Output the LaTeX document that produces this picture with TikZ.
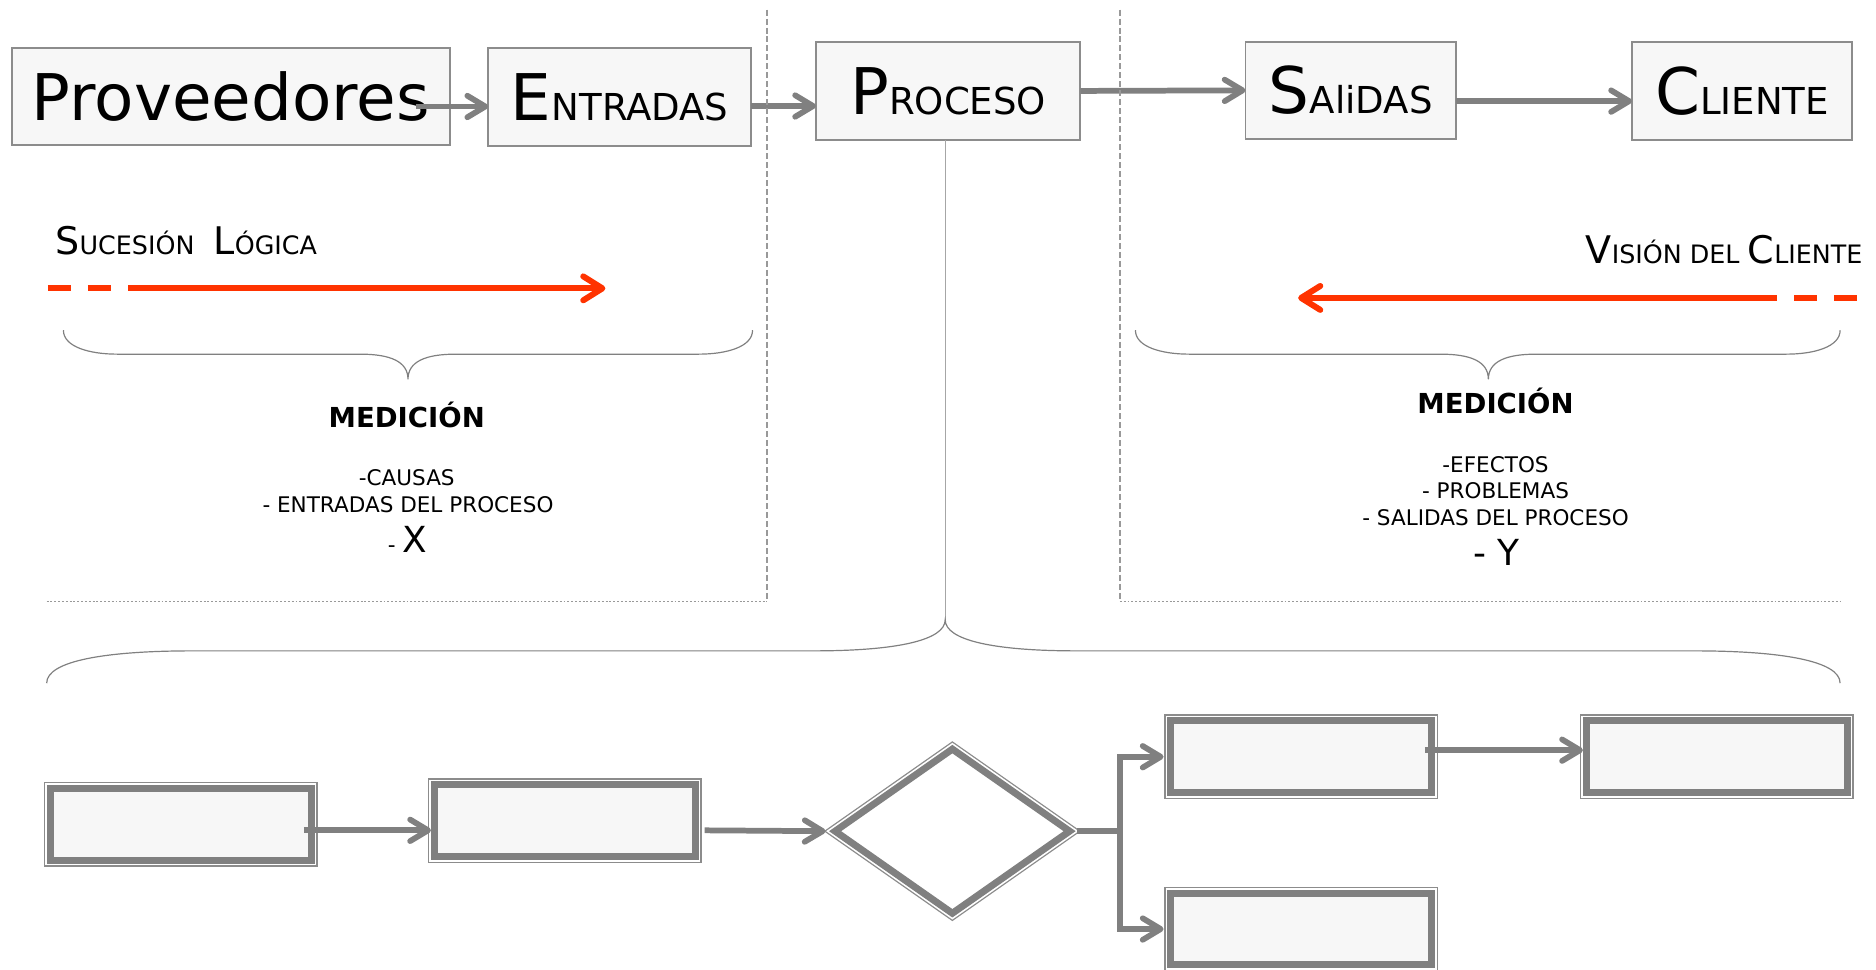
\documentclass[tikz,border=0pt]{standalone}
\usepackage{fontspec}
\setmainfont{DejaVu Sans}
\usepackage{xcolor}
\usetikzlibrary{arrows.meta,shapes.geometric}

\definecolor{grisf}{HTML}{808080}
\definecolor{grisl}{HTML}{8C8C8C}
\definecolor{fondo}{HTML}{F7F7F7}
\definecolor{rojo}{HTML}{FF3300}

\newcommand{\grande}{\fontsize{26.9}{30}\selectfont}
\newcommand{\chica}{\fontsize{15.5}{18}\selectfont}
\newcommand{\medg}{\fontsize{15.9}{18}\selectfont}
\newcommand{\medc}{\fontsize{10.6}{12}\selectfont}

\tikzset{
    bloque/.style={rectangle, draw=grisl, line width=0.75pt, fill=fondo, inner sep=0pt, outer sep=0pt},
    caja/.style={rectangle, draw=grisf, line width=2.9pt, fill=fondo, inner sep=0pt, outer sep=0pt,
        minimum width=109pt, minimum height=30pt,
        preaction={draw=grisl, line width=5.4pt},
        preaction={draw=white, line width=4.3pt}},
    rombo/.style={diamond, draw=grisf, line width=2.9pt, fill=white, inner sep=0pt, outer sep=0pt,
        minimum width=98pt, minimum height=68.6pt,
        preaction={draw=grisl, line width=5.4pt},
        preaction={draw=white, line width=4.3pt}},
    flecha/.style={draw=grisf, line width=2.4pt, -{Straight Barb[length=7.5pt,width=9pt,round]}},
    linea/.style={draw=grisf, line width=2.4pt},
    roja/.style={draw=rojo, line width=2.5pt, -{Straight Barb[length=8pt,width=10pt,round]},
        dash pattern=on 9.5pt off 7.25pt on 9.5pt off 7.25pt on 400pt},
    llave/.style={draw=grisf, line width=0.5pt},
    division/.style={draw=gray!80, line width=0.6pt, dash pattern=on 2.5pt off 1.25pt},
    punteado/.style={draw=gray!80, line width=0.5pt, dash pattern=on 0.8pt off 0.8pt},
    medicion/.style={font=\fontsize{9}{11}\selectfont, anchor=base, inner sep=0pt},
    titulo/.style={font=\fontsize{11.5}{13}\selectfont\bfseries, anchor=base, inner sep=0pt}
}

\begin{document}
\begin{tikzpicture}[x=0.5pt, y=-0.5pt]
    \useasboundingbox (0,0) rectangle (1568,810);

    % Top chain
    \node[bloque, minimum width=183pt, minimum height=40.5pt] (prov) at (193,80.5) {\grande Proveedores};
    \node[bloque, minimum width=110pt, minimum height=41pt] (entr) at (518,81) {\grande E\chica NTRADAS};
    \node[bloque, minimum width=110.5pt, minimum height=41pt] (proc) at (792.5,76) {\grande P\chica ROCESO};
    \node[bloque, minimum width=88pt, minimum height=40.5pt] (sal) at (1129,75.5) {\grande S\chica AliDAS};
    \node[bloque, minimum width=92pt, minimum height=41pt] (cli) at (1456,76) {\grande C\chica LIENTE};

    \draw[flecha] ([xshift=-14pt,yshift=-4.25pt]prov.east) -- ([yshift=-4pt]entr.west);
    \draw[flecha] ([yshift=-3.8pt]entr.east) -- ([yshift=-6.3pt]proc.west);
    \draw[flecha] (proc.east) -- (sal.west);
    \draw[flecha] ([yshift=-4.5pt]sal.east) -- ([yshift=-4.25pt]cli.west);

    % Dividers
    \draw[division] (641,8) -- (641,503);
    \draw[division] (936,8) -- (936,503);
    \draw[punteado] (39,503) -- (641,503);
    \draw[punteado] (936,503) -- (1538,503);

    % Direction arrows
    \node[anchor=base west, inner sep=0pt] (suc) at (46,213) {\medg S\medc UCESIÓN\hspace{8pt}\medg L\medc ÓGICA};
    \draw[roja] (40,241) -- (506,241);
    \node[anchor=base east, inner sep=0pt] (vis) at (1557,220) {\medg V\medc ISIÓN DEL \medg C\medc LIENTE};
    \draw[roja] (1552,249) -- (1085,249);

    % Braces
    \draw[llave] (53,276) .. controls (53,290) and (75,296) .. (98,296) -- (301,296)
        .. controls (326,296) and (341,302) .. (341,317)
        .. controls (341,302) and (356,296) .. (381,296) -- (584,296)
        .. controls (607,296) and (629,290) .. (629,276);
    \draw[llave] (949,276) .. controls (949,290) and (971,296) .. (994,296) -- (1204,296)
        .. controls (1229,296) and (1244,302) .. (1244,317)
        .. controls (1244,302) and (1259,296) .. (1284,296) -- (1493,296)
        .. controls (1516,296) and (1538,290) .. (1538,276);

    % Measurement
    \node[titulo] (med1) at (340,357) {MEDICIÓN};
    \node[medicion] (causas) at (340,406) {-CAUSAS};
    \node[medicion] (ent) at (341,428) {- ENTRADAS DEL PROCESO};
    \node[medicion] (x) at (340.5,461.5) {- {\fontsize{15}{18}\selectfont X}};

    \node[titulo] (med2) at (1250,345.6) {MEDICIÓN};
    \node[medicion] (efec) at (1250,395) {-EFECTOS};
    \node[medicion] (prob) at (1250,417) {- PROBLEMAS};
    \node[medicion] (sali) at (1250,439) {- SALIDAS DEL PROCESO};
    \node[medicion] (y) at (1251,472.5) {\fontsize{15}{18}\selectfont - Y};

    % Process detail
    \coordinate (punta) at (790,518);
    \draw[llave, draw=gray!70] ([xshift=-1.25pt]proc.south) -- (punta);
    \draw[llave] (39,571) .. controls (39,552) and (90,544) .. (161,544) -- (680,544)
        .. controls (750,544) and (790,535) .. (punta)
        .. controls (790,535) and (830,544) .. (900,544) -- (1416,544)
        .. controls (1487,544) and (1538,552) .. (1538,571);

    \node[caja] (c1) at (151,689) {};
    \node[caja] (c2) at (472,686) {};
    \node[rombo] (d) at (796,694.7) {};
    \node[caja] (c3) at (1087.5,632.5) {};
    \node[caja] (c4) at (1087.5,776.5) {};
    \node[caja] (c5) at (1435,632.5) {};
    \coordinate (rama) at (936,694.7);

    \draw[flecha] ([xshift=-3pt,yshift=-2.5pt]c1.east) -- ([xshift=-1.4pt,yshift=-4pt]c2.west);
    \draw[flecha] ([xshift=4pt,yshift=-4pt]c2.east) -- ([xshift=-4pt]d.west);
    \draw[linea] ([xshift=3pt]d.east) -- (rama);
    \draw[flecha] (rama) |- ([xshift=-3pt]c3.west);
    \draw[flecha] (rama) |- ([xshift=-3pt]c4.west);
    \draw[flecha] ([xshift=-2.75pt,yshift=2.75pt]c3.east) -- ([xshift=-1.5pt,yshift=2.75pt]c5.west);
\end{tikzpicture}
\end{document}
